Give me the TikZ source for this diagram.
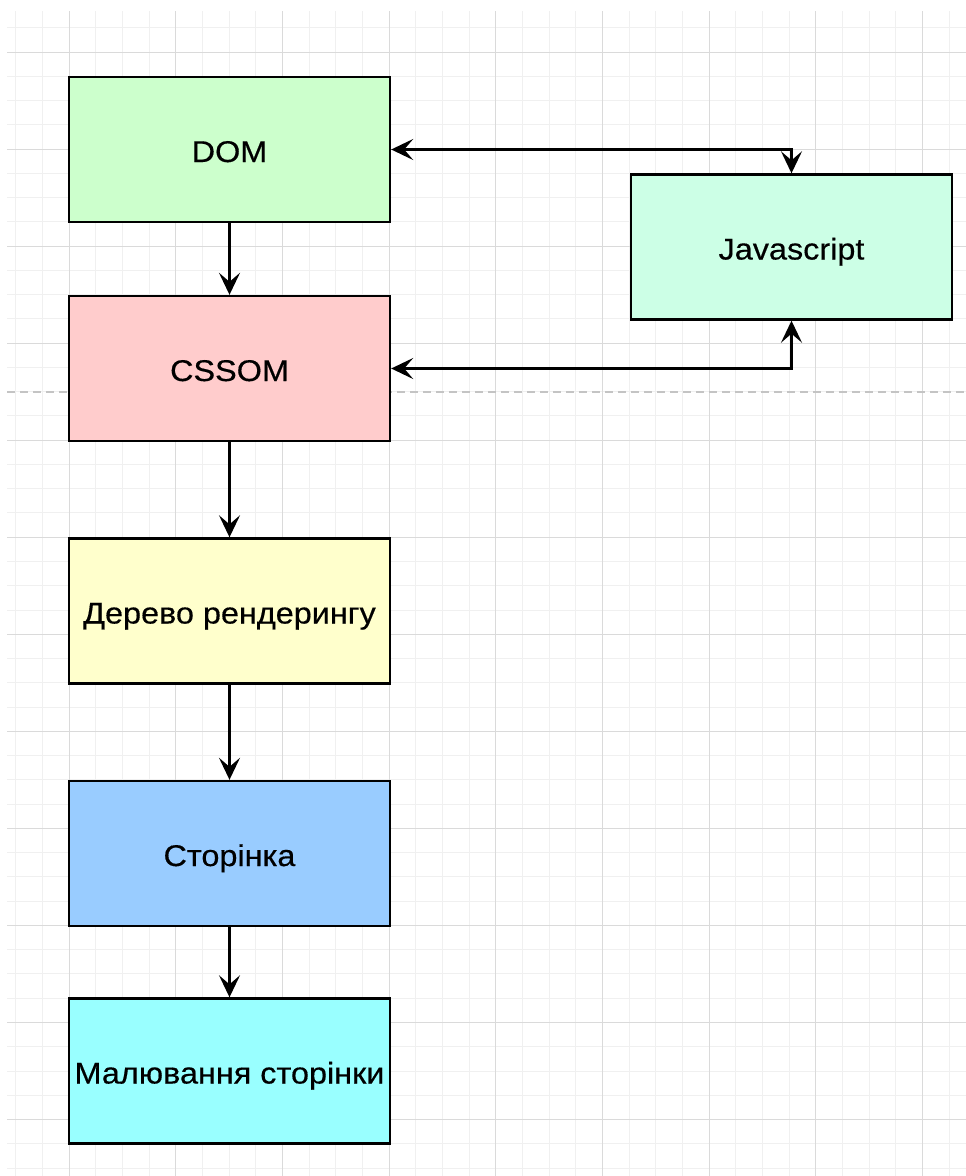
\documentclass[tikz,border=0pt]{standalone}
\usepackage{fontspec}
\usepackage{graphicx}
\setmainfont{Liberation Sans}[BoldFont=Liberation Sans,BoldFeatures={FakeBold=0.4}]
\usetikzlibrary{arrows.meta}
\definecolor{gridminor}{HTML}{F0F0F0}
\definecolor{gridmajor}{HTML}{DADADA}
\definecolor{pagebrk}{HTML}{C4C4C4}
\definecolor{domfill}{HTML}{CCFFCC}
\definecolor{cssfill}{HTML}{FFCCCC}
\definecolor{treefill}{HTML}{FFFFCC}
\definecolor{pagefill}{HTML}{99CCFF}
\definecolor{paintfill}{HTML}{99FFFF}
\definecolor{jsfill}{HTML}{CCFFE6}
\newcommand\wtext[1]{\scalebox{1.08}[1]{#1}}
\begin{document}
\begin{tikzpicture}[x=1pt,y=-1pt,
  minorline/.style={draw=gridminor,line width=1pt},
  majorline/.style={draw=gridmajor,line width=1pt},
  breakline/.style={draw=pagebrk,line width=1.5pt,dash pattern=on 8pt off 5pt},
  box/.style={draw=black,line width=2.4pt,minimum width=321pt,minimum height=145pt,
    inner sep=0pt,text height=25pt,text depth=0pt,
    font=\fontsize{30}{36}\selectfont\bfseries},
  conn/.style={line width=2.4pt,draw=black},
  >={Stealth[length=22pt,width=21pt,inset=9pt]}]
\useasboundingbox (0,0) rectangle (966,1176);
\fill[white] (0,0) rectangle (966,1176);
\begin{scope}
  \clip (7,11) rectangle (966,1176);
  \foreach \i in {0,...,36} \draw[minorline] ({15.67+26.667*\i},11) -- ++(0,1165);
  \foreach \j in {0,...,48} \draw[minorline] (7,{27.74+24.2625*\j}) -- ++(959,0);
  \foreach \i in {0,...,9} \draw[majorline] ({69+106.67*\i},11) -- ++(0,1165);
  \foreach \j in {0,...,11} \draw[majorline] (7,{52+97.05*\j}) -- ++(959,0);
\end{scope}
\draw[breakline] (7,392) -- (966,392);

\node[box,fill=domfill]   (dom)   at (229.5,149.5) {\wtext{DOM}};
\node[box,fill=cssfill]   (cssom) at (229.5,368.5) {\wtext{CSSOM}};
\node[box,fill=treefill]  (tree)  at (229.5,611)   {\wtext{Дерево рендерингу}};
\node[box,fill=pagefill]  (page)  at (229.5,853.5) {\wtext{Сторінка}};
\node[box,fill=paintfill] (paint) at (229.5,1071)  {\wtext{Малювання сторінки}};
\node[box,fill=jsfill]    (js)    at (791.5,247)   {\wtext{Javascript}};

\draw[conn,->] (dom) -- (cssom);
\draw[conn,->] (cssom) -- (tree);
\draw[conn,->] (tree) -- (page);
\draw[conn,->] (page) -- (paint);
\draw[conn,<->] (js.north) |- (dom.east);
\draw[conn,<->] (js.south) |- (cssom.east);
\end{tikzpicture}
\end{document}
